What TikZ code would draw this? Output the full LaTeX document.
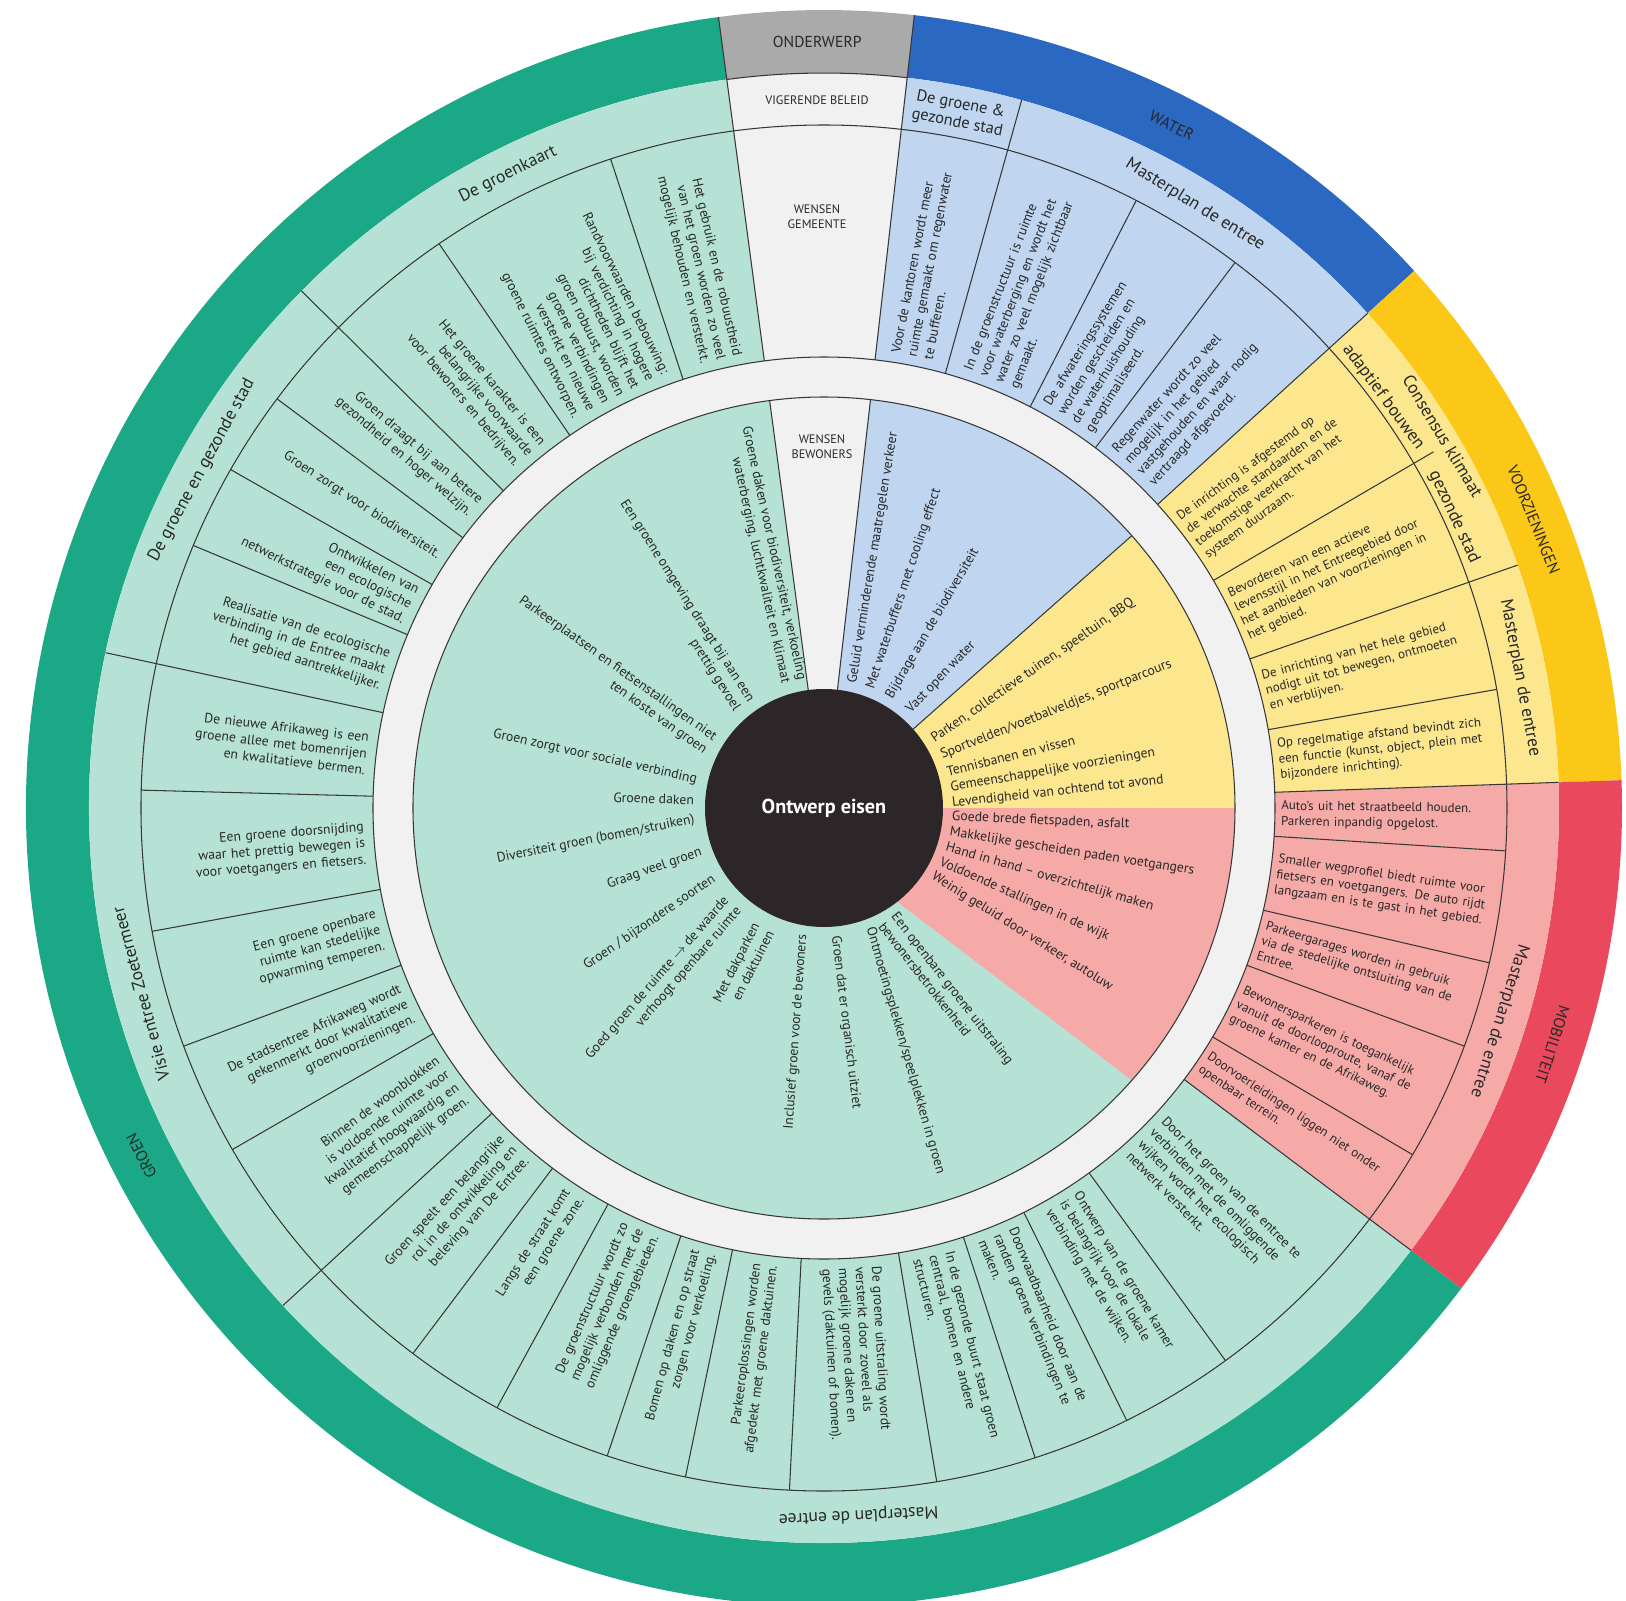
\documentclass[tikz,border=0pt]{standalone}
\usepackage{fontspec}
\setmainfont{PT Sans}
\hyphenpenalty=10000
\exhyphenpenalty=10000

\definecolor{bandgreen}{RGB}{26,168,134}
\definecolor{lightgreen}{RGB}{182,226,213}
\definecolor{bandblue}{RGB}{42,104,194}
\definecolor{lightblue}{RGB}{191,213,240}
\definecolor{bandyellow}{RGB}{252,200,24}
\definecolor{lightyellow}{RGB}{253,231,142}
\definecolor{bandred}{RGB}{234,72,92}
\definecolor{lightred}{RGB}{246,170,168}
\definecolor{bandgrey}{RGB}{170,170,170}
\definecolor{paleground}{RGB}{241,241,241}
\definecolor{centredark}{RGB}{45,38,40}
\definecolor{linegrey}{RGB}{55,55,55}
\definecolor{inktext}{RGB}{40,40,40}

\newcommand{\cellfont}{\fontsize{7.8}{9.4}\selectfont\hyphenpenalty=10000\relax}
\newcommand{\smallcellfont}{\fontsize{7.4}{8.9}\selectfont\hyphenpenalty=10000\relax}
\newcommand{\ringlabelfont}{\fontsize{10}{12}\selectfont}
\newcommand{\boxlabelfont}{\fontsize{9.3}{10.5}\selectfont}
\newcommand{\bandfont}{\fontsize{9}{11}\selectfont}
\newcommand{\capfont}{\fontsize{7}{8.5}\selectfont}

% ring segment: colour, from angle, to angle, inner radius, outer radius
\newcommand{\ringpart}[5]{%
  \fill[#1] (#2:#4) arc[start angle=#2, end angle=#3, radius=#4]
    -- (#3:#5) arc[start angle=#3, end angle=#2, radius=#5] -- cycle;}

\begin{document}
\begin{tikzpicture}[x=0.02cm, y=0.02cm,
    ringline/.style={draw=linegrey, line width=0.6pt},
    itemin/.style={font=\cellfont, text=inktext, text width=3.9cm, align=right,
                   anchor=east, inner sep=0pt, rotate=#1-180},
    itemout/.style={font=\cellfont, text=inktext, text width=3.9cm, align=left,
                    anchor=west, inner sep=0pt, rotate=#1},
    itemwide/.style={itemout=#1, font=\smallcellfont, text width=4.3cm},
    wishin/.style={font=\cellfont, text=inktext, align=right, anchor=east,
                   inner sep=0pt, rotate=#1-180},
    wishout/.style={font=\cellfont, text=inktext, align=left, anchor=west,
                    inner sep=0pt, rotate=#1},
    ringlabel/.style={font=\ringlabelfont, text=inktext, inner sep=0pt, rotate=#1-90},
    boxlabel/.style={font=\boxlabelfont, text=inktext, align=center, inner sep=0pt, rotate=#1-90},
    bandlabel/.style={font=\bandfont, text=inktext, inner sep=0pt, rotate=#1-90},
    caplabel/.style={font=\capfont, text=inktext, align=center, inner sep=1pt}]

    \useasboundingbox (-824,-792) rectangle (802,808);
    \fill[white] (-824,-792) rectangle (802,808);

    % Outer band with the subjects
    \ringpart{bandgreen}{97.6}{323}{735}{798}
    \ringpart{bandgrey}{83.5}{97.6}{735}{798}
    \ringpart{bandblue}{42.3}{83.5}{735}{798}
    \ringpart{bandyellow}{2}{42.3}{735}{798}
    \ringpart{bandred}{-37}{2}{735}{798}

    % Policy ring and wishes of the municipality
    \ringpart{lightgreen}{97.6}{323}{451}{735}
    \ringpart{paleground}{83.5}{97.6}{451}{735}
    \ringpart{lightblue}{42.3}{83.5}{451}{735}
    \ringpart{lightyellow}{2}{42.3}{451}{735}
    \ringpart{lightred}{-37}{2}{451}{735}
    \ringpart{paleground}{0}{360}{411}{451}

    % Wishes of the residents
    \fill[lightgreen] (0,0) circle (411);
    \fill[paleground] (0,0) -- (83.5:411) arc[start angle=83.5, end angle=97.6, radius=411] -- cycle;
    \fill[lightblue] (0,0) -- (41.5:411) arc[start angle=41.5, end angle=83.5, radius=411] -- cycle;
    \fill[lightyellow] (0,0) -- (0:411) arc[start angle=0, end angle=41.5, radius=411] -- cycle;
    \fill[lightred] (0,0) -- (-52:119) -- (-41.5:411) arc[start angle=-41.5, end angle=0, radius=411] -- cycle;

    % Circles and dividers
    \draw[ringline] (0,0) circle (411) (0,0) circle (451) (0,0) circle (683);
    \draw[ringline] (83.5:735) arc[start angle=83.5, end angle=97.6, radius=735];
    \draw[ringline] (97.6:451) -- (97.6:798) (83.5:451) -- (83.5:798)
        (135.3:451) -- (135.3:735) (167.8:451) -- (167.8:735)
        (222.6:451) -- (222.6:735) (-37:451) -- (-37:735)
        (2:451) -- (2:735) (19.3:451) -- (19.3:735) (30.3:451) -- (30.3:706)
        (42.3:451) -- (42.3:735) (74.4:451) -- (74.4:735);
    \draw[ringline] (108.2:451) -- (108.2:683) (124.3:451) -- (124.3:683)
        (143.2:451) -- (143.2:683) (150.3:451) -- (150.3:683)
        (157.4:451) -- (157.4:683) (178.5:451) -- (178.5:683)
        (190.4:451) -- (190.4:683) (200.4:451) -- (200.4:683)
        (210:451) -- (210:683) (233:451) -- (233:683)
        (241.4:451) -- (241.4:683) (251.5:451) -- (251.5:683)
        (258.3:451) -- (258.3:683) (267.1:451) -- (267.1:683)
        (279.5:451) -- (279.5:683) (288:451) -- (288:683)
        (296.3:451) -- (296.3:683) (306:451) -- (306:683)
        (-30.5:451) -- (-30.5:683) (-20.4:451) -- (-20.4:683)
        (-13.1:451) -- (-13.1:683) (-3.6:451) -- (-3.6:683)
        (10:451) -- (10:683) (53:451) -- (53:683) (62.8:451) -- (62.8:683);
    \draw[ringline] (83.5:119) -- (83.5:411) (97.6:119) -- (97.6:411)
        (41.5:119) -- (41.5:411);

    % Centre
    \fill[centredark] (0,0) circle (119);
    \node[font=\fontsize{11.5}{14}\selectfont\bfseries, text=white] (core) at (0,0) {Ontwerp eisen};

    % Subjects in the outer band
    \node[bandlabel=90.5] (subject) at (90.5:766) {ONDERWERP};
    \node[bandlabel=63] (water) at (63:766) {WATER};
    \node[bandlabel=22.1] (facilities) at (22.1:766) {VOORZIENINGEN};
    \node[bandlabel=-18] (mobility) at (-18:766) {MOBILITEIT};
    \node[bandlabel=207] (green) at (207:766) {GROEN};

    % Policy documents
    \node[caplabel] (policy) at (-7,708) {VIGERENDE BELEID};
    \node[caplabel] (munwish) at (-7,591) {WENSEN\\GEMEENTE};
    \node[caplabel] (reswish) at (-2,361) {WENSEN\\BEWONERS};
    \node[ringlabel=116.5] (greenmap) at (116.5:708) {De groenkaart};
    \node[ringlabel=151.5] (greencity) at (151.5:708) {De groene en gezonde stad};
    \node[ringlabel=195.2] (vision) at (195.2:708) {Visie entree Zoetermeer};
    \node[ringlabel=272.8] (mpgreen) at (272.8:708) {Masterplan de entree};
    \node[boxlabel=79] (bluecity) at (79:707) {De groene \&\\gezonde stad};
    \node[ringlabel=58.4] (mpblue) at (58.4:708) {Masterplan de entree};
    \node[ringlabel=31] (consensus) at (31:722) {Consensus klimaat};
    \node[ringlabel=36.3] (adaptive) at (36.3:694) {adaptief bouwen};
    \node[ringlabel=24.8] (yellowcity) at (24.8:694) {gezonde stad};
    \node[ringlabel=10.6] (mpyellow) at (10.6:708) {Masterplan de entree};
    \node[ringlabel=-17.5] (mpred) at (-17.5:708) {Masterplan de entree};

    % Wishes of the municipality - green
    \node[itemin=103] (gk1) at (103:460) {Het gebruik en de robuustheid van het groen worden zo veel mogelijk behouden en versterkt.};
    \node[itemin=116.3] (gk2) at (116.3:460) {Randvoorwaarden bebouwing: bij verdichting in hogere dichtheden blijft het groen robuust, worden groene verbindingen versterkt en nieuwe groene ruimtes ontworpen.};
    \node[itemin=129.8] (gk3) at (129.8:460) {Het groene karakter is een belangrijke voorwaarde voor bewoners en bedrijven.};
    \node[itemin=139.3] (gs1) at (139.3:460) {Groen draagt bij aan betere gezondheid en hoger welzijn.};
    \node[itemin=146.8] (gs2) at (146.8:460) {Groen zorgt voor biodiversiteit.};
    \node[itemin=153.9] (gs3) at (153.9:460) {Ontwikkelen van een ecologische netwerkstrategie voor de stad.};
    \node[itemin=162.6] (gs4) at (162.6:460) {Realisatie van de ecologische verbinding in de Entree maakt het gebied aantrekkelijker.};
    \node[itemin=173.2] (vz1) at (173.2:460) {De nieuwe Afrikaweg is een groene allee met bomenrijen en kwalitatieve bermen.};
    \node[itemin=184.5] (vz2) at (184.5:460) {Een groene doorsnijding waar het prettig bewegen is voor voetgangers en fietsers.};
    \node[itemin=195.4] (vz3) at (195.4:460) {Een groene openbare ruimte kan stedelijke opwarming temperen.};
    \node[itemin=205.2] (vz4) at (205.2:460) {De stadsentree Afrikaweg wordt gekenmerkt door kwalitatieve groenvoorzieningen.};
    \node[itemin=216.3] (vz5) at (216.3:460) {Binnen de woonblokken is voldoende ruimte voor kwalitatief hoogwaardig en gemeenschappelijk groen.};
    \node[itemin=227.8] (me1) at (227.8:460) {Groen speelt een belangrijke rol in de ontwikkeling en beleving van De Entree.};
    \node[itemin=237.2] (me2) at (237.2:460) {Langs de straat komt een groene zone.};
    \node[itemin=246.5] (me3) at (246.5:460) {De groenstructuur wordt zo mogelijk verbonden met de omliggende groengebieden.};
    \node[itemin=254.9] (me4) at (254.9:460) {Bomen op daken en op straat zorgen voor verkoeling.};
    \node[itemin=262.7] (me5) at (262.7:460) {Parkeeroplossingen worden afgedekt met groene daktuinen.};
    \node[itemout=273.3] (me6) at (273.3:460) {De groene uitstraling wordt versterkt door zoveel als mogelijk groene daken en gevels (daktuinen of bomen).};
    \node[itemout=283.8] (me7) at (283.8:460) {In de gezonde buurt staat groen centraal, bomen en andere structuren.};
    \node[itemout=292.2] (me8) at (292.2:460) {Doorwaadbaarheid door aan de randen groene verbindingen te maken.};
    \node[itemout=301.2] (me9) at (301.2:460) {Ontwerp van de groene kamer is belangrijk voor de lokale verbinding met de wijken.};
    \node[itemout=314.5] (me10) at (314.5:460) {Door het groen van de entree te verbinden met de omliggende wijken wordt het ecologisch netwerk versterkt.};

    % Wishes of the municipality - water, facilities, mobility
    \node[itemout=79] (bl1) at (79:460) {Voor de kantoren wordt meer ruimte gemaakt om regenwater te bufferen.};
    \node[itemout=68.6] (bl2) at (68.6:460) {In de groenstructuur is ruimte voor waterberging en wordt het water zo veel mogelijk zichtbaar gemaakt.};
    \node[itemout=57.9] (bl3) at (57.9:460) {De afwateringssystemen worden gescheiden en de waterhuishouding geoptimaliseerd.};
    \node[itemout=47.7] (bl4) at (47.7:460) {Regenwater wordt zo veel mogelijk in het gebied vastgehouden en waar nodig vertraagd afgevoerd.};
    \node[itemwide=36.3] (ye1) at (36.3:457) {De inrichting is afgestemd op de verwachte standaarden en de toekomstige veerkracht van het systeem duurzaam.};
    \node[itemwide=24.9] (ye2) at (24.9:457) {Bevorderen van een actieve levensstijl in het Entreegebied door het aanbieden van voorzieningen in het gebied.};
    \node[itemwide=14.8] (ye3) at (14.8:457) {De inrichting van het hele gebied nodigt uit tot bewegen, ontmoeten en verblijven.};
    \node[itemwide=6] (ye4) at (6:457) {Op regelmatige afstand bevindt zich een functie (kunst, object, plein met bijzondere inrichting).};
    \node[itemwide=-0.8] (re1) at (-0.8:457) {Auto's uit het straatbeeld houden.\\Parkeren inpandig opgelost.};
    \node[itemwide=-8.4] (re2) at (-8.4:457) {Smaller wegprofiel biedt ruimte voor fietsers en voetgangers. De auto rijdt langzaam en is te gast in het gebied.};
    \node[itemwide=-16.8] (re3) at (-16.8:457) {Parkeergarages worden in gebruik via de stedelijke ontsluiting van de Entree.};
    \node[itemwide=-25.5] (re4) at (-25.5:457) {Bewonersparkeren is toegankelijk vanuit de doorlooproute, vanaf de groene kamer en de Afrikaweg.};
    \node[itemwide=-33.8] (re5) at (-33.8:457) {Doorvoerleidingen liggen niet onder openbaar terrein.};

    % Wishes of the residents
    \node[wishin=102.4] (wb1) at (103.6:130) {Groene daken voor biodiversiteit, verkoeling\\waterberging, luchtkwaliteit en klimaat};
    \node[wishin=122.6] (wb2) at (128:130) {Een groene omgeving draagt bij aan een\\prettig gevoel};
    \node[wishin=144.5] (wb3) at (151:130) {Parkeerplaatsen en fietsenstallingen niet\\ten koste van groen};
    \node[wishin=167.2] (wb4) at (167.6:130) {Groen zorgt voor sociale verbinding};
    \node[wishin=178.2] (wb5) at (176.5:130) {Groene daken};
    \node[wishin=191.3] (wb6) at (185.2:130) {Diversiteit groen (bomen/struiken)};
    \node[wishin=199.4] (wb7) at (199.8:130) {Graag veel groen};
    \node[wishin=214.5] (wb8) at (212.6:130) {Groen / bijzondere soorten};
    \node[wishin=229] (wb9) at (226.5:132) {Goed groen de ruimte $\to$ de waarde\\verhoogt openbare ruimte};
    \node[wishin=243] (wb10) at (243:134) {Met dakparken\\en daktuinen};
    \node[wishin=266] (wb11) at (260.5:128) {Inclusief groen voor de bewoners};
    \node[wishout=277] (wb12) at (275:128) {Groen dat er organisch uitziet};
    \node[wishout=286] (wb13) at (291:128) {Ontmoetingsplekken/speelplekken in groen};
    \node[wishout=308] (wb14) at (300:128) {Een openbare groene uitstraling\\bewonersbetrokkenheid};
    \node[wishout=80.7] (bw1) at (77:128) {Geluid verminderende maatregelen verkeer};
    \node[wishout=71.5] (bw2) at (68.7:128) {Met waterbuffers met cooling effect};
    \node[wishout=59.8] (bw3) at (59.3:128) {Bijdrage aan de biodiversiteit};
    \node[wishout=46.5] (bw4) at (48.7:128) {Vast open water};
    \node[wishout=34.7] (yw1) at (32:128) {Parken, collectieve tuinen, speeltuin, BBQ};
    \node[wishout=21.8] (yw2) at (24:128) {Sportvelden/voetbalveldjes, sportparcours};
    \node[wishout=13.9] (yw3) at (16.5:128) {Tennisbanen en vissen};
    \node[wishout=9.8] (yw4) at (9:128) {Gemeenschappelijke voorzieningen};
    \node[wishout=6.3] (yw5) at (2:128) {Levendigheid van ochtend tot avond};
    \node[wishout=-2.5] (rw1) at (-4:128) {Goede brede fietspaden, asfalt};
    \node[wishout=-9] (rw2) at (-11:128) {Makkelijke gescheiden paden voetgangers};
    \node[wishout=-16] (rw3) at (-18:128) {Hand in hand -- overzichtelijk maken};
    \node[wishout=-24] (rw4) at (-25:128) {Voldoende stallingen in de wijk};
    \node[wishout=-32] (rw5) at (-32:128) {Weinig geluid door verkeer, autoluw};

\end{tikzpicture}
\end{document}
